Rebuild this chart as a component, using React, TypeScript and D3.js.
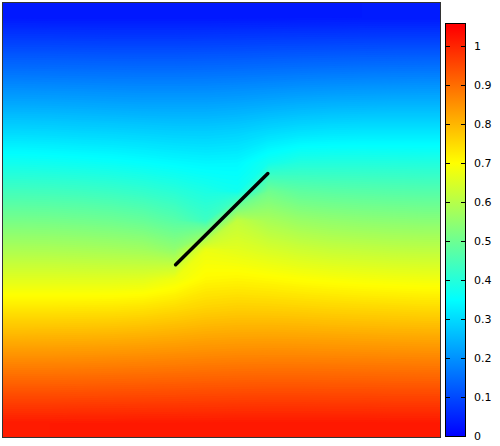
import React, { useRef, useEffect } from 'react'
import * as d3 from 'd3'

// field sampled on a 14 x 15 grid (cell centres), top row first
const fieldRows: number[][] = [
  [0.033, 0.032, 0.032, 0.032, 0.032, 0.032, 0.032, 0.033, 0.033, 0.034, 0.034, 0.035, 0.035, 0.035],
  [0.099, 0.099, 0.098, 0.097, 0.097, 0.097, 0.098, 0.099, 0.101, 0.102, 0.103, 0.104, 0.105, 0.105],
  [0.166, 0.165, 0.164, 0.163, 0.162, 0.162, 0.163, 0.165, 0.168, 0.171, 0.173, 0.175, 0.176, 0.177],
  [0.233, 0.232, 0.230, 0.227, 0.225, 0.225, 0.225, 0.229, 0.235, 0.241, 0.245, 0.247, 0.248, 0.248],
  [0.302, 0.300, 0.296, 0.294, 0.290, 0.286, 0.285, 0.290, 0.303, 0.313, 0.318, 0.320, 0.320, 0.320],
  [0.371, 0.368, 0.364, 0.359, 0.352, 0.344, 0.338, 0.340, 0.374, 0.394, 0.395, 0.395, 0.394, 0.393],
  [0.441, 0.439, 0.435, 0.429, 0.419, 0.405, 0.387, 0.372, 0.504, 0.480, 0.474, 0.470, 0.467, 0.465],
  [0.513, 0.511, 0.507, 0.501, 0.490, 0.469, 0.434, 0.614, 0.581, 0.560, 0.550, 0.544, 0.540, 0.537],
  [0.585, 0.584, 0.581, 0.577, 0.571, 0.549, 0.673, 0.661, 0.645, 0.631, 0.621, 0.616, 0.611, 0.609],
  [0.657, 0.657, 0.656, 0.656, 0.658, 0.677, 0.707, 0.711, 0.705, 0.697, 0.691, 0.686, 0.682, 0.679],
  [0.730, 0.730, 0.731, 0.732, 0.737, 0.747, 0.759, 0.764, 0.763, 0.760, 0.756, 0.753, 0.751, 0.748],
  [0.802, 0.803, 0.804, 0.806, 0.810, 0.815, 0.821, 0.824, 0.825, 0.824, 0.822, 0.820, 0.818, 0.817],
  [0.874, 0.874, 0.875, 0.877, 0.879, 0.882, 0.885, 0.887, 0.888, 0.888, 0.887, 0.886, 0.885, 0.884],
  [0.945, 0.945, 0.946, 0.947, 0.948, 0.949, 0.951, 0.952, 0.953, 0.953, 0.952, 0.952, 0.951, 0.951],
  [1.015, 1.015, 1.016, 1.016, 1.017, 1.017, 1.017, 1.018, 1.018, 1.018, 1.018, 1.018, 1.017, 1.017],
]

const paletteStops = [0, 0.35, 0.7, 1.05]
const paletteColors = ['#0000ff', '#00ffff', '#ffff00', '#ff0000']

// the black segment, in plot units (0..1 both ways, y up)
const crackX = [0.395, 0.606]
const crackY = [0.397, 0.607]

const cbTicks = [0, 0.1, 0.2, 0.3, 0.4, 0.5, 0.6, 0.7, 0.8, 0.9, 1]
const cbMin = 0
const cbMax = 1.057

const App = () => {
  const svgRef = useRef<SVGSVGElement>(null)

  const left = 3, right = 440, top = 3, bottom = 437
  const cbLeft = 446, cbRight = 465, cbTop = 24, cbBottom = 436

  useEffect(() => {
    const svg = d3.select(svgRef.current)
    const nx = fieldRows[0].length
    const ny = fieldRows.length

    // repeat the edge samples once all round so the bands reach the frame corners
    const padded = [fieldRows[0], ...fieldRows, fieldRows[ny - 1]]
      .map(r => [r[0], ...r, r[nx - 1]])
    const values = padded.flat()

    const color = d3.scaleLinear<string>()
      .domain(paletteStops)
      .range(paletteColors)
      .clamp(true)

    const cw = (right - left) / nx
    const ch = (438 - top) / ny
    const gx = d3.scaleLinear().domain([0, nx + 2]).range([left - cw, right + cw])
    const gy = d3.scaleLinear().domain([0, ny + 2]).range([top - ch, 438 + ch])

    const proj = d3.geoTransform({
      point(x: number, y: number) {
        // @ts-ignore
        this.stream.point(gx(x), gy(y))
      },
    })
    const path = d3.geoPath(proj)

    const step = 0.005
    const thresholds = d3.range(0, 1.06, step)
    const contours = d3.contours().size([nx + 2, ny + 2]).thresholds(thresholds)(values)

    svg.select('.field')
      .selectAll('path')
      .data(contours)
      .join('path')
      .attr('d', path as any)
      .attr('fill', d => color(d.value + step / 2))

    // colour bar
    const cb = d3.scaleLinear().domain([cbMin, cbMax]).range([cbBottom, cbTop])
    const grad = svg.select('#cbGrad')
    grad.selectAll('stop')
      .data(paletteStops)
      .join('stop')
      .attr('offset', d => (d - cbMin) / (cbMax - cbMin))
      .attr('stop-color', (d, i) => paletteColors[i])

    const ticks = svg.select('.cb-ticks')
    ticks.selectAll('g')
      .data(cbTicks)
      .join('g')
      .each(function (d) {
        const g = d3.select(this)
        const y = Math.round(cb(d)) + 0.5
        g.selectAll('*').remove()
        g.append('line').attr('x1', cbLeft).attr('x2', cbLeft + 4).attr('y1', y).attr('y2', y)
          .attr('stroke', '#000').attr('stroke-width', 1)
        g.append('line').attr('x1', cbRight - 4).attr('x2', cbRight).attr('y1', y).attr('y2', y)
          .attr('stroke', '#000').attr('stroke-width', 1)
        g.append('text')
          .attr('x', 474)
          .attr('y', y)
          .attr('dy', '0.36em')
          .style('font-family', 'DejaVu Sans, sans-serif')
          .style('font-size', '11px')
          .style('fill', '#000')
          .text(d3.format('~g')(d))
      })

    // segment
    const sx = d3.scaleLinear().domain([0, 1]).range([left, right])
    const sy = d3.scaleLinear().domain([0, 1]).range([bottom, top])
    const seg = d3.line<number>()
      .x((d, i) => sx(crackX[i]))
      .y((d, i) => sy(crackY[i]))
    svg.select('.crack')
      .attr('d', seg(crackX))
      .attr('fill', 'none')
      .attr('stroke', '#000')
      .attr('stroke-width', 3.5)
      .attr('stroke-linecap', 'round')
  }, [])

  return (
    <svg width={500} height={446} ref={svgRef}
      style={{ position: 'absolute', left: 0, top: 0, background: '#fff' }}>
      <defs>
        <clipPath id="plotClip">
          <rect x={left} y={top} width={right - left} height={bottom - top} />
        </clipPath>
        <linearGradient id="cbGrad" x1="0" y1="1" x2="0" y2="0" />
      </defs>
      <g className="field" clipPath="url(#plotClip)" />
      <path className="crack" />
      <rect x={left - 0.5} y={top - 0.5} width={right - left + 1} height={bottom - top + 1}
        fill="none" stroke="#333" strokeWidth={1} />
      <rect x={cbLeft} y={cbTop} width={cbRight - cbLeft} height={cbBottom - cbTop} fill="url(#cbGrad)" />
      <g className="cb-ticks" />
      <rect x={cbLeft - 0.5} y={cbTop - 0.5} width={cbRight - cbLeft + 1} height={cbBottom - cbTop + 1}
        fill="none" stroke="#000" strokeWidth={1} />
    </svg>
  )
}

export default App
